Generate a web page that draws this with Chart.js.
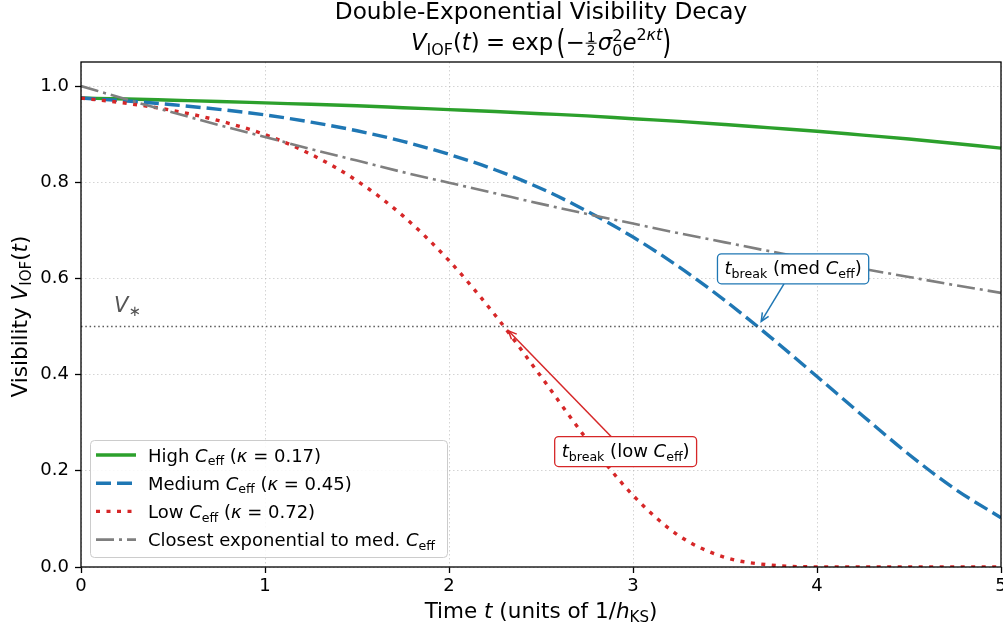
<!DOCTYPE html>
<html>
<head>
<meta charset="utf-8">
<title>Double-Exponential Visibility Decay</title>
<script src="https://cdn.jsdelivr.net/npm/chart.js@4.4.1/dist/chart.umd.min.js"></script>
<style>
  html, body { margin: 0; padding: 0; background: #fff; }
  #wrap { width: 1003px; height: 632px; }
</style>
</head>
<body>
<div id="wrap"><canvas id="myChart" width="1003" height="632"></canvas></div>
<script>
'use strict';

// values
const timeSteps = [0, 0.25, 0.5, 0.75, 1, 1.25, 1.5, 1.75, 2, 2.25, 2.5, 2.75, 3, 3.25, 3.5, 3.75, 4, 4.25, 4.5, 4.75, 5];
const highVisibility = [0.975, 0.973, 0.9705, 0.968, 0.965, 0.962, 0.959, 0.955, 0.951, 0.947, 0.9425, 0.938, 0.932, 0.9265, 0.920, 0.913, 0.906, 0.898, 0.890, 0.8805, 0.871];
const mediumVisibility = [0.975, 0.969, 0.961, 0.9515, 0.940, 0.925, 0.907, 0.885, 0.858, 0.826, 0.787, 0.740, 0.686, 0.624, 0.554, 0.477, 0.396, 0.314, 0.234, 0.162, 0.1025];
const lowVisibility = [0.975, 0.964, 0.949, 0.928, 0.899, 0.858, 0.803, 0.730, 0.637, 0.524, 0.396, 0.265, 0.149, 0.065, 0.020, 0.004, 0.0003, 0, 0, 0, 0];
const expVisibility = [1.0, 0.972, 0.945, 0.919, 0.894, 0.869, 0.845, 0.821, 0.799, 0.777, 0.755, 0.734, 0.714, 0.694, 0.675, 0.656, 0.638, 0.620, 0.603, 0.586, 0.570];
const thresholdV = 0.5;
const breakTimes = [2.30, 3.68]; // low, medium
const xTickValues = [0, 1, 2, 3, 4, 5];
const yTickValues = [0, 0.2, 0.4, 0.6, 0.8, 1.0];

const GREEN = '#2ca02c';
const BLUE = '#1f77b4';
const RED = '#d62728';
const GRAY = '#7f7f7f';
const FAMILY = '"DejaVu Sans"';

const DASH_MED = [15, 6];
const DASH_LOW = [4, 6.5];
const DASH_EXP = [18, 5, 3, 5];

function toPoints(arr) {
  return timeSteps.map((t, i) => ({ x: t, y: arr[i] }));
}

// ---- small rich text helper (italic / sub / sup / fraction / tall parens) ----
function fontOf(size, italic) {
  return (italic ? 'italic ' : '') + size.toFixed(2) + 'px ' + FAMILY;
}

function partWidth(ctx, p, size) {
  if (p.gap) return p.gap * size;
  const s = size * (p.f || 1);
  if (p.frac) {
    ctx.font = fontOf(s, false);
    return Math.max(ctx.measureText(p.frac[0]).width, ctx.measureText(p.frac[1]).width) + 0.2 * size;
  }
  if (p.stack) {
    ctx.font = fontOf(s, false);
    return Math.max(...p.stack.map(q => ctx.measureText(q.t).width));
  }
  ctx.font = fontOf(s, p.it);
  return ctx.measureText(p.t).width;
}

function richWidth(ctx, parts, size) {
  return parts.reduce((w, p) => w + partWidth(ctx, p, size), 0);
}

function drawRich(ctx, parts, x, y, size, align) {
  const total = richWidth(ctx, parts, size);
  let cx = align === 'center' ? x - total / 2 : (align === 'right' ? x - total : x);
  ctx.textAlign = 'left';
  ctx.textBaseline = 'alphabetic';
  parts.forEach(p => {
    const w = partWidth(ctx, p, size);
    const s = size * (p.f || 1);
    if (p.frac) {
      ctx.font = fontOf(s, false);
      const barY = y - 0.3 * size;
      const w1 = ctx.measureText(p.frac[0]).width;
      const w2 = ctx.measureText(p.frac[1]).width;
      ctx.fillText(p.frac[0], cx + (w - w1) / 2, barY - 0.07 * size);
      ctx.fillText(p.frac[1], cx + (w - w2) / 2, barY + 0.1 * size + 0.73 * s);
      ctx.fillRect(cx + 0.05 * size, barY - 0.5, w - 0.1 * size, 1);
    } else if (p.stack) {
      ctx.font = fontOf(s, false);
      p.stack.forEach(q => ctx.fillText(q.t, cx, y + q.dy * size));
    } else if (p.tall) {
      // paren stretched vertically around the math axis
      ctx.save();
      ctx.font = fontOf(s, false);
      ctx.translate(cx, y - 0.3 * size);
      ctx.scale(1, p.tall);
      ctx.fillText(p.t, 0, 0.315 * s);
      ctx.restore();
    } else if (p.t) {
      ctx.font = fontOf(s, p.it);
      ctx.fillText(p.t, cx, y + (p.dy || 0) * size);
    }
    cx += w;
  });
  return total;
}

const SUB = { f: 0.7, dy: 0.2 };
const ceff = [{ t: 'C', it: true }, Object.assign({ t: 'eff' }, SUB)];

const titleText = 'Double-Exponential Visibility Decay';
const formulaParts = [
  { t: 'V', it: true }, Object.assign({ t: 'IOF' }, SUB),
  { t: '(' }, { t: 't', it: true }, { t: ')' },
  { gap: 0.28 }, { t: '=' }, { gap: 0.28 },
  { t: 'exp' }, { gap: 0.15 },
  { t: '(', tall: 1.5 },
  { t: '\u2212' },
  { frac: ['1', '2'], f: 0.6 },
  { t: '\u03c3', it: true },
  { stack: [{ t: '2', dy: -0.4 }, { t: '0', dy: 0.25 }], f: 0.7 },
  { t: 'e', it: true },
  { t: '2', f: 0.7, dy: -0.42 },
  { t: '\u03bat', f: 0.7, dy: -0.42, it: true },
  { t: ')', tall: 1.5 }
];
const xLabelParts = [
  { t: 'Time ' }, { t: 't', it: true }, { t: ' (units of 1/' }, { t: 'h', it: true },
  Object.assign({ t: 'KS' }, SUB), { t: ')' }
];
const yLabelParts = [
  { t: 'Visibility ' }, { t: 'V', it: true }, Object.assign({ t: 'IOF' }, SUB),
  { t: '(' }, { t: 't', it: true }, { t: ')' }
];

const legendItems = [
  { color: GREEN, width: 3.4, dash: [], parts: [{ t: 'High ' }, ...ceff, { t: ' (' }, { t: '\u03ba', it: true }, { t: ' = 0.17)' }] },
  { color: BLUE, width: 3.4, dash: DASH_MED, parts: [{ t: 'Medium ' }, ...ceff, { t: ' (' }, { t: '\u03ba', it: true }, { t: ' = 0.45)' }] },
  { color: RED, width: 3.4, dash: DASH_LOW, parts: [{ t: 'Low ' }, ...ceff, { t: ' (' }, { t: '\u03ba', it: true }, { t: ' = 0.72)' }] },
  { color: GRAY, width: 2.6, dash: DASH_EXP, parts: [{ t: 'Closest exponential to med. ' }, ...ceff] }
];

const annotations = [
  { target: [breakTimes[1], thresholdV], box: [3.87, 0.62], color: BLUE,
    parts: [{ t: 't', it: true }, Object.assign({ t: 'break' }, SUB), { t: ' (med ' }, ...ceff, { t: ')' }] },
  { target: [breakTimes[0], thresholdV], box: [2.96, 0.24], color: RED,
    parts: [{ t: 't', it: true }, Object.assign({ t: 'break' }, SUB), { t: ' (low ' }, ...ceff, { t: ')' }] }
];

function drawArrow(ctx, x0, y0, x1, y1, color) {
  const ang = Math.atan2(y1 - y0, x1 - x0);
  ctx.strokeStyle = color;
  ctx.lineWidth = 1.5;
  ctx.setLineDash([]);
  ctx.beginPath();
  ctx.moveTo(x0, y0);
  ctx.lineTo(x1, y1);
  ctx.stroke();
  const hl = 9, ha = 0.42;
  ctx.beginPath();
  ctx.moveTo(x1 - hl * Math.cos(ang - ha), y1 - hl * Math.sin(ang - ha));
  ctx.lineTo(x1, y1);
  ctx.lineTo(x1 - hl * Math.cos(ang + ha), y1 - hl * Math.sin(ang + ha));
  ctx.stroke();
}

const decorPlugin = {
  id: 'decor',
  beforeDraw(chart) {
    const ctx = chart.ctx;
    ctx.save();
    ctx.fillStyle = '#fff';
    ctx.fillRect(0, 0, chart.width, chart.height);
    ctx.restore();
  },
  afterDraw(chart) {
    const ctx = chart.ctx;
    const area = chart.chartArea;
    const xs = chart.scales.x;
    const ys = chart.scales.y;
    const midX = (area.left + area.right) / 2;
    ctx.save();

    // frame
    ctx.strokeStyle = '#000';
    ctx.lineWidth = 1.3;
    ctx.setLineDash([]);
    ctx.strokeRect(area.left, area.top, area.right - area.left, area.bottom - area.top);

    // titles
    ctx.fillStyle = '#000';
    ctx.font = fontOf(23.2, false);
    ctx.textAlign = 'center';
    ctx.textBaseline = 'alphabetic';
    ctx.fillText(titleText, midX, 18.5);
    drawRich(ctx, formulaParts, midX, 50, 22.8, 'center');

    // axis labels
    drawRich(ctx, xLabelParts, midX, 618, 21.5, 'center');
    ctx.save();
    ctx.translate(27, (area.top + area.bottom) / 2 + 2);
    ctx.rotate(-Math.PI / 2);
    drawRich(ctx, yLabelParts, 0, 0, 21.5, 'center');
    ctx.restore();

    // V* label
    ctx.fillStyle = '#555';
    drawRich(ctx, [{ t: 'V', it: true }, { t: '\u2217', f: 0.7, dy: 0.2 }], xs.getPixelForValue(0.18), ys.getPixelForValue(0.53), 21, 'left');

    // annotations
    annotations.forEach(a => {
      const tx = xs.getPixelForValue(a.target[0]);
      const ty = ys.getPixelForValue(a.target[1]);
      const cx = xs.getPixelForValue(a.box[0]);
      const cy = ys.getPixelForValue(a.box[1]);
      const tw = richWidth(ctx, a.parts, 18);
      const hw = tw / 2 + 7, hh = 15;
      const dx = tx - cx, dy = ty - cy;
      const len = Math.hypot(dx, dy);
      const k = Math.min(hw / Math.abs(dx), hh / Math.abs(dy));
      const sx = cx + dx * k, sy = cy + dy * k;
      const ex = tx - dx / len * 6, ey = ty - dy / len * 6;
      drawArrow(ctx, sx, sy, ex, ey, a.color);

      ctx.beginPath();
      ctx.roundRect(cx - hw, cy - hh, hw * 2, hh * 2, 4);
      ctx.fillStyle = '#fff';
      ctx.fill();
      ctx.strokeStyle = a.color;
      ctx.lineWidth = 1.3;
      ctx.stroke();
      ctx.fillStyle = '#000';
      drawRich(ctx, a.parts, cx, cy + 5.5, 18, 'center');
    });

    // legend
    ctx.beginPath();
    ctx.roundRect(90.5, 440.5, 357, 117, 4);
    ctx.fillStyle = 'rgba(255,255,255,0.85)';
    ctx.fill();
    ctx.strokeStyle = '#cccccc';
    ctx.lineWidth = 1;
    ctx.stroke();
    legendItems.forEach((item, i) => {
      const y = 455 + i * 28.2;
      ctx.strokeStyle = item.color;
      ctx.lineWidth = item.width;
      ctx.lineCap = 'butt';
      ctx.setLineDash(item.dash);
      ctx.beginPath();
      ctx.moveTo(96, y);
      ctx.lineTo(136, y);
      ctx.stroke();
      ctx.setLineDash([]);
      ctx.fillStyle = '#000';
      drawRich(ctx, item.parts, 148, y + 6.5, 18, 'left');
    });

    ctx.restore();
  }
};

const ctx = document.getElementById('myChart');

const lineBase = { pointRadius: 0, fill: false, cubicInterpolationMode: 'monotone', borderCapStyle: 'butt', clip: 0 };

new Chart(ctx, {
  type: 'line',
  data: {
    datasets: [
      Object.assign({ label: 'High', data: toPoints(highVisibility), borderColor: GREEN, borderWidth: 3.4, order: 5 }, lineBase),
      Object.assign({ label: 'Medium', data: toPoints(mediumVisibility), borderColor: BLUE, borderWidth: 3.4, borderDash: DASH_MED, order: 4 }, lineBase),
      Object.assign({ label: 'Low', data: toPoints(lowVisibility), borderColor: RED, borderWidth: 3.4, borderDash: DASH_LOW, order: 3 }, lineBase),
      Object.assign({ label: 'Exp', data: toPoints(expVisibility), borderColor: GRAY, borderWidth: 2.6, borderDash: DASH_EXP, order: 2 }, lineBase),
      Object.assign({ label: 'V*', data: [{ x: 0, y: thresholdV }, { x: 5, y: thresholdV }], borderColor: 'rgba(60,60,60,0.85)', borderWidth: 1.3, borderDash: [1.5, 2.8], order: 1 }, lineBase)
    ]
  },
  options: {
    responsive: false,
    animation: false,
    layout: { padding: { top: 62, right: 2, left: 0, bottom: 0 } },
    plugins: {
      legend: { display: false },
      title: { display: false },
      tooltip: { enabled: false }
    },
    scales: {
      x: {
        type: 'linear',
        min: 0,
        max: 5,
        afterBuildTicks: (scale) => { scale.ticks = xTickValues.map(v => ({ value: v })); },
        afterFit: (scale) => { scale.height = 65; scale.paddingLeft = 0; scale.paddingRight = 0; },
        ticks: { color: '#000', font: { family: 'DejaVu Sans', size: 18 }, padding: 3, maxRotation: 0, callback: v => String(v) },
        grid: { color: 'rgba(176,176,176,0.55)', lineWidth: 1, tickColor: '#000', tickWidth: 1.3, tickLength: 6, tickBorderDash: [] },
        border: { display: false, dash: [1.5, 2.5] }
      },
      y: {
        min: 0,
        max: 1.05,
        afterBuildTicks: (scale) => { scale.ticks = yTickValues.map(v => ({ value: v })); },
        afterFit: (scale) => { scale.width = 81; scale.paddingTop = 0; scale.paddingBottom = 0; },
        ticks: { color: '#000', font: { family: 'DejaVu Sans', size: 18 }, padding: 6, callback: v => v.toFixed(1) },
        grid: { color: 'rgba(176,176,176,0.55)', lineWidth: 1, tickColor: '#000', tickWidth: 1.3, tickLength: 6, tickBorderDash: [] },
        border: { display: false, dash: [1.5, 2.5] }
      }
    }
  },
  plugins: [decorPlugin]
});
</script>
</body>
</html>
